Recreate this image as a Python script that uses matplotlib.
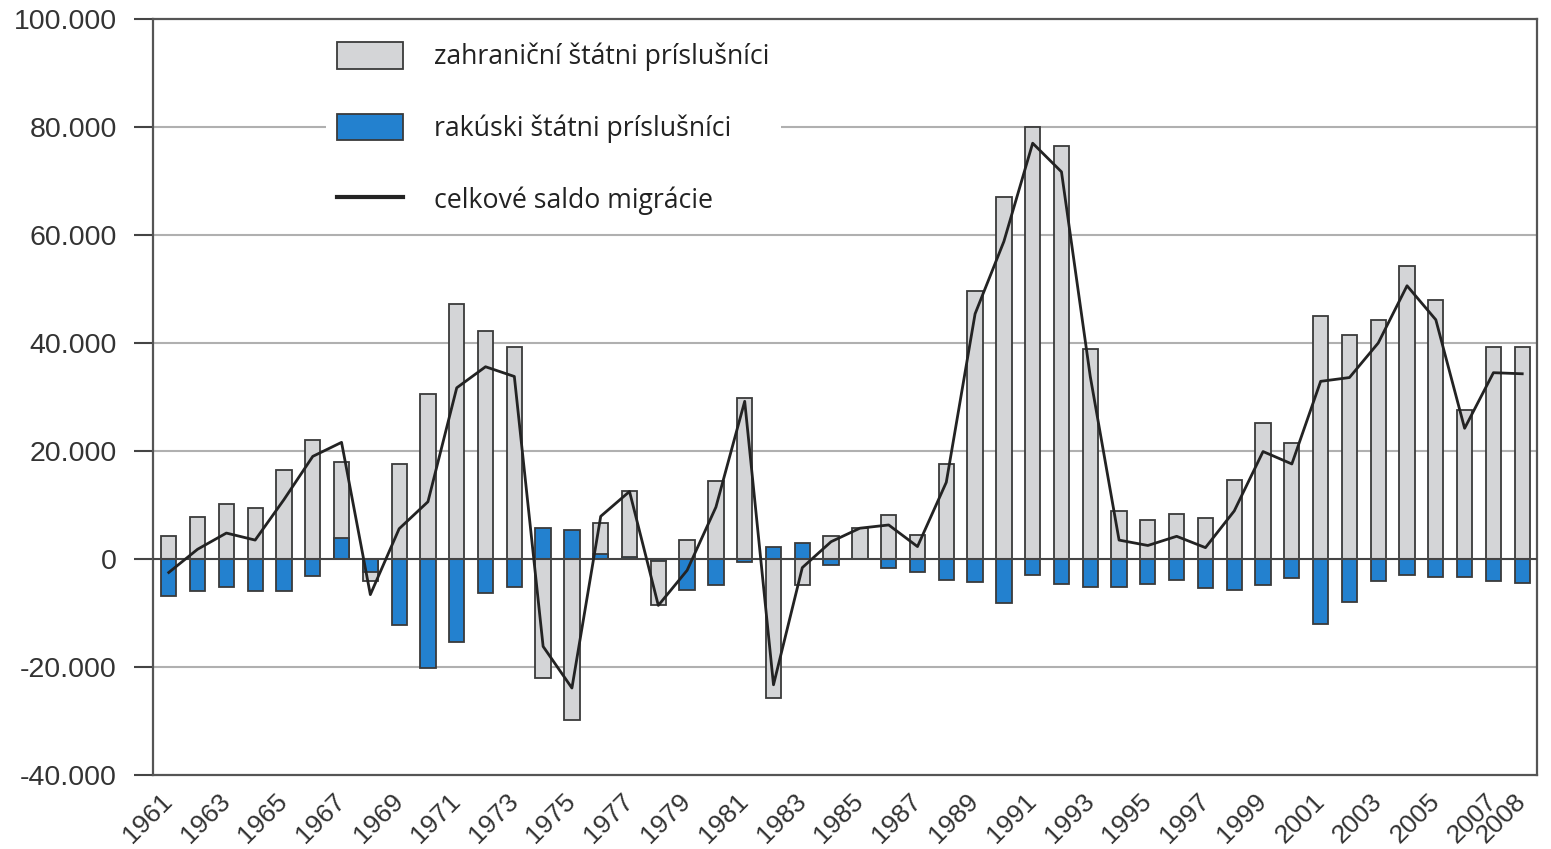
import matplotlib
matplotlib.use("Agg")
import matplotlib.pyplot as plt
from matplotlib.patches import Patch
from matplotlib.lines import Line2D
from matplotlib.ticker import FuncFormatter

# roky 1961-2008
roky = list(range(1961, 2009))

# zahraniční štátni príslušníci (tis.)
zahranicni = [4.2, 7.8, 10.2, 9.4, 16.5, 22.1, 17.9, -4.1, 17.5, 30.5,
              47.2, 42.3, 39.2, -22.0, -29.8, 6.7, 12.5, -8.5, 3.6, 14.4,
              29.8, -25.7, -4.8, 4.2, 5.7, 8.2, 4.5, 17.6, 49.7, 67.0,
              80.0, 76.5, 38.9, 8.8, 7.2, 8.4, 7.6, 14.7, 25.1, 21.5,
              45.0, 41.5, 44.3, 54.2, 47.9, 27.6, 39.2, 39.2]

# rakúski štátni príslušníci (tis.)
rakuski = [-6.8, -6.0, -5.2, -6.0, -6.0, -3.2, 3.9, -2.5, -12.3, -20.2,
           -15.4, -6.3, -5.2, 5.7, 5.4, 1.0, 0.3, -0.3, -5.7, -4.8,
           -0.5, 2.3, 3.0, -1.2, 0.0, -1.7, -2.4, -3.9, -4.3, -8.2,
           -3.0, -4.7, -5.1, -5.1, -4.7, -3.9, -5.3, -5.7, -4.9, -3.6,
           -12.0, -8.0, -4.0, -2.9, -3.4, -3.4, -4.0, -4.5]

# celkové saldo migrácie (tis.)
saldo = [-2.5, 1.8, 4.8, 3.5, 11.0, 19.0, 21.6, -6.6, 5.6, 10.6,
         31.7, 35.6, 33.8, -16.2, -23.9, 7.9, 12.5, -8.6, -2.1, 9.6,
         29.2, -23.3, -1.6, 3.2, 5.7, 6.3, 2.3, 14.2, 45.4, 58.8,
         77.0, 71.7, 33.8, 3.5, 2.5, 4.2, 2.1, 8.9, 19.9, 17.6,
         32.9, 33.6, 40.0, 50.6, 44.3, 24.2, 34.5, 34.3]

popisky_rokov = [r for r in roky if r % 2 == 1] + [2008]

seda = "#d4d5d7"
modra = "#2381cf"
okraj = "#3a3a3a"

fig = plt.figure(figsize=(15.51, 8.49), dpi=100)
ax = fig.add_axes([0.0986, 0.0872, 0.8925, 0.8904])

# mriežka
for y in [-20000, 20000, 40000, 60000, 80000]:
    ax.axhline(y, color="#b0b0b0", lw=1.5, zorder=0)

ax.bar(roky, [v * 1000 for v in zahranicni], width=0.53, color=seda,
       edgecolor=okraj, linewidth=1.3, zorder=2)
ax.bar(roky, [v * 1000 for v in rakuski], width=0.53, color=modra,
       edgecolor=okraj, linewidth=1.3, zorder=3)
ax.axhline(0, color="#444444", lw=1.5, zorder=3.5)
ax.plot(roky, [v * 1000 for v in saldo], color="#232323", lw=2.0, zorder=4)

ax.set_xlim(1960.45, 2008.52)
ax.set_ylim(-40000, 100000)
ax.set_yticks(range(-40000, 100001, 20000))
ax.yaxis.set_major_formatter(FuncFormatter(lambda v, p: f"{v:,.0f}".replace(",", ".")))
ax.set_xticks(popisky_rokov)
ax.set_xticklabels([str(r) for r in popisky_rokov], rotation=45, ha="right",
                   va="center", rotation_mode="anchor")

ax.tick_params(axis="y", length=14, width=1.5, color="#444444", labelsize=20.5,
               labelcolor="#333333", pad=12)
ax.tick_params(axis="x", length=0, labelsize=19, labelcolor="#333333", pad=16)
for lab in ax.get_xticklabels() + ax.get_yticklabels():
    lab.set_family(["Liberation Sans", "DejaVu Sans"])

for s in ax.spines.values():
    s.set_color("#555555")
    s.set_linewidth(1.6)

handles = [
    Patch(facecolor=seda, edgecolor=okraj, linewidth=1.3),
    Patch(facecolor=modra, edgecolor=okraj, linewidth=1.3),
    Line2D([0], [0], color="#232323", lw=3),
]
labels = ["zahraniční štátni príslušníci",
          "rakúski štátni príslušníci",
          "celkové saldo migrácie"]
leg = ax.legend(handles, labels, loc="upper left", bbox_to_anchor=(0.1252, 0.984),
                frameon=True, facecolor="white", edgecolor="none", framealpha=1,
                fancybox=False, borderaxespad=0, borderpad=0.42,
                handlelength=2.46, handleheight=1.14, handletextpad=1.16,
                labelspacing=1.6, prop={"family": ["Open Sans", "DejaVu Sans"], "size": 19.2})
for t in leg.get_texts():
    t.set_color("#222222")

fig.savefig("out.png", dpi=100)
